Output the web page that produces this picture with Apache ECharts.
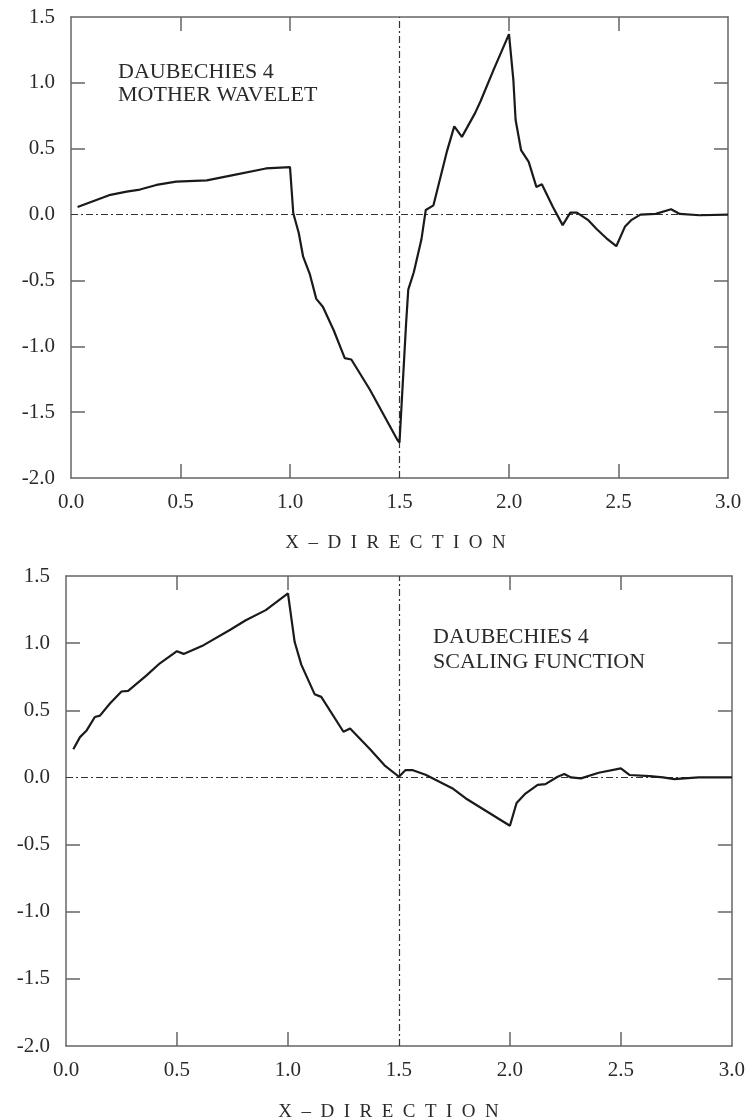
<!DOCTYPE html>
<html>
<head>
<meta charset="utf-8">
<script src="https://cdn.jsdelivr.net/npm/echarts@6/dist/echarts.min.js"></script>
<style>
  html, body { margin: 0; padding: 0; background: #fff; }
  #chart { width: 748px; height: 1118px; }
</style>
</head>
<body>
<div id="chart"></div>
<script>
// ---- data ----
const waveletX = [0.03, 0.18, 0.254, 0.315, 0.39, 0.48, 0.62, 0.74, 0.89, 1.0,
  1.015, 1.04, 1.06, 1.09, 1.12, 1.15, 1.20, 1.25, 1.28, 1.365, 1.49, 1.50,
  1.53, 1.54, 1.565, 1.60, 1.62, 1.655, 1.715, 1.75, 1.785, 1.845, 1.87, 1.93, 2.0,
  2.02, 2.03, 2.055, 2.09, 2.125, 2.15, 2.20, 2.245, 2.28, 2.31, 2.36, 2.40, 2.445, 2.49,
  2.53, 2.56, 2.60, 2.67, 2.74, 2.78, 2.87, 3.0];
const waveletY = [0.058, 0.15, 0.174, 0.19, 0.225, 0.25, 0.26, 0.30, 0.35, 0.36,
  0.01, -0.14, -0.32, -0.45, -0.64, -0.70, -0.88, -1.09, -1.10, -1.33, -1.71, -1.73,
  -0.83, -0.57, -0.44, -0.19, 0.035, 0.07, 0.47, 0.67, 0.59, 0.77, 0.86, 1.10, 1.37,
  1.02, 0.72, 0.49, 0.40, 0.21, 0.23, 0.06, -0.08, 0.015, 0.015, -0.04, -0.11, -0.18, -0.24,
  -0.09, -0.04, 0.0, 0.005, 0.04, 0.005, -0.005, 0.0];

const scalingX = [0.033, 0.063, 0.093, 0.13, 0.153, 0.198, 0.25, 0.28, 0.363, 0.423, 0.50, 0.53,
  0.62, 0.74, 0.81, 0.90, 1.0,
  1.03, 1.06, 1.12, 1.15, 1.25, 1.28, 1.37, 1.435, 1.50, 1.53, 1.56, 1.62, 1.74, 1.80, 2.0,
  2.03, 2.07, 2.125, 2.16, 2.215, 2.245, 2.275, 2.32, 2.40, 2.50, 2.54, 2.63, 2.69, 2.74, 2.85, 3.0];
const scalingY = [0.21, 0.30, 0.35, 0.45, 0.46, 0.55, 0.64, 0.645, 0.76, 0.85, 0.94, 0.92,
  0.985, 1.10, 1.17, 1.246, 1.37,
  1.01, 0.84, 0.62, 0.60, 0.34, 0.365, 0.21, 0.09, 0.005, 0.055, 0.055, 0.02, -0.08, -0.155, -0.36,
  -0.19, -0.12, -0.055, -0.05, 0.005, 0.025, 0.0, -0.007, 0.035, 0.068, 0.018, 0.01, 0.0, -0.012, 0.0, 0.0];

const xTickValues = [0.5, 1.0, 2.0, 2.5];
const yTickValues = [-1.5, -1.0, -0.5, 0.5, 1.0];
const xAxisTitle = 'X  –  D  I  R  E  C  T  I  O  N';
const topNote = ['DAUBECHIES 4', 'MOTHER WAVELET'];
const bottomNote = ['DAUBECHIES 4', 'SCALING FUNCTION'];
const refX = 1.5;
const refY = 0;

// ---- chart ----
const FONT = '"Liberation Serif", "DejaVu Serif", serif';
const AXIS_COLOR = '#666';
const TEXT_COLOR = '#2a2a2a';

function pairs(xs, ys) { return xs.map((x, i) => [x, ys[i]]); }

const grids = [
  { left: 71, top: 17, width: 657, height: 461 },
  { left: 66, top: 576, width: 667, height: 470 }
];

const xAxes = [], yAxes = [], series = [];
grids.forEach((g, gi) => {
  const axisLine = { show: true, onZero: false, lineStyle: { color: AXIS_COLOR, width: 1.5 } };
  ['bottom', 'top'].forEach(pos => {
    xAxes.push({
      type: 'value', gridIndex: gi, position: pos, min: 0, max: 3, interval: 0.5,
      axisLine: axisLine,
      axisTick: { show: true, inside: true, length: 14, customValues: xTickValues,
        lineStyle: { color: AXIS_COLOR, width: 1.5 } },
      axisLabel: { show: pos === 'bottom', margin: 14, fontFamily: FONT, fontSize: 21,
        color: TEXT_COLOR, formatter: v => v.toFixed(1) },
      splitLine: { show: false }
    });
  });
  ['left', 'right'].forEach(pos => {
    yAxes.push({
      type: 'value', gridIndex: gi, position: pos, min: -2, max: 1.5, interval: 0.5,
      axisLine: axisLine,
      axisTick: { show: true, inside: true, length: 14, customValues: yTickValues,
        lineStyle: { color: AXIS_COLOR, width: 1.5 } },
      axisLabel: { show: pos === 'left', margin: 16, fontFamily: FONT, fontSize: 21,
        color: TEXT_COLOR, formatter: v => v.toFixed(1) },
      splitLine: { show: false }
    });
  });
  const data = gi === 0 ? pairs(waveletX, waveletY) : pairs(scalingX, scalingY);
  series.push({
    type: 'line', xAxisIndex: gi * 2, yAxisIndex: gi * 2, data: data,
    showSymbol: false, symbol: 'none', smooth: false, z: 5,
    lineStyle: { color: '#1a1a1a', width: 2.2 },
    markLine: {
      silent: true, symbol: ['none', 'none'], label: { show: false },
      lineStyle: { color: '#333', width: 1.2, type: [7, 3, 2, 3] },
      data: [{ xAxis: refX }, { yAxis: refY }]
    }
  });
});

function noteText(x, y, text, size) {
  return { type: 'text', x: x, y: y, silent: true,
    style: { text: text, fontFamily: FONT, fontSize: size, fill: TEXT_COLOR,
      align: 'left', verticalAlign: 'middle' } };
}
function titleText(x, y, text) {
  return { type: 'text', x: x, y: y, silent: true,
    style: { text: text, fontFamily: FONT, fontSize: 19, fill: TEXT_COLOR,
      align: 'center', verticalAlign: 'middle' } };
}

const option = {
  animation: false,
  backgroundColor: '#fff',
  grid: grids,
  xAxis: xAxes,
  yAxis: yAxes,
  series: series,
  graphic: [
    noteText(118, 72.5, topNote[0], 22),
    noteText(118, 95.5, topNote[1], 22),
    noteText(433, 637.5, bottomNote[0], 22),
    noteText(433, 662.5, bottomNote[1], 22),
    titleText(395.5, 543.5, xAxisTitle),
    titleText(388.5, 1112, xAxisTitle)
  ]
};

const chart = echarts.init(document.getElementById('chart'), null, { renderer: 'canvas' });
chart.setOption(option);
</script>
</body>
</html>
